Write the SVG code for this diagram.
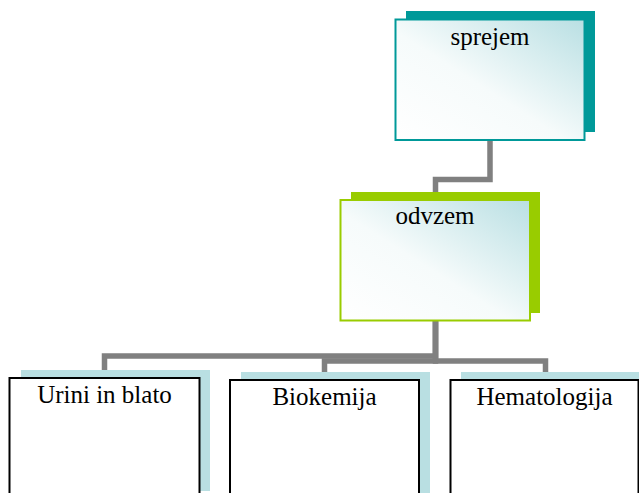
<svg xmlns="http://www.w3.org/2000/svg" width="639" height="493" viewBox="0 0 639 493">
<style>
.conn{fill:none;stroke:#808080;stroke-width:5.5;stroke-linejoin:miter}
.lbl{font-size:25px;fill:#000;text-anchor:middle}
.top{fill:url(#g)}
.child{fill:#fff;stroke:#000;stroke-width:2}
.cshadow{fill:#b9dfe2}
</style>
<defs>
<linearGradient id="g" x1="0" y1="1" x2="1" y2="0">
<stop offset="0" stop-color="#ffffff"/>
<stop offset="0.45" stop-color="#f6fbfb"/>
<stop offset="0.75" stop-color="#d5ecee"/>
<stop offset="1" stop-color="#b9dfe3"/>
</linearGradient>
</defs>
<g id="connectors">
<path class="conn" d="M490 140 V179.5 H435.5 V192"/>
<path class="conn" d="M435.5 321 V356 H104.5 V370"/>
<path class="conn" d="M435.5 321 V361 H324.5 V372"/>
<path class="conn" d="M435.5 321 V361 H545.5 V372"/>
</g>
<g font-family="'Liberation Serif', 'Times New Roman', serif">
<g id="sprejem">
<rect x="406" y="11" width="189" height="121" fill="#009999"/>
<rect class="top" x="395.5" y="19.5" width="189" height="120.5" stroke="#009999" stroke-width="2"/>
<text class="lbl" x="490" y="45">sprejem</text>
</g>
<g id="odvzem">
<rect x="351" y="192" width="189" height="121" fill="#99cc00"/>
<rect class="top" x="340.5" y="200" width="189.5" height="120.5" stroke="#99cc00" stroke-width="2"/>
<text class="lbl" x="435" y="224">odvzem</text>
</g>
<g id="urini">
<rect class="cshadow" x="21" y="370" width="189" height="121"/>
<rect class="child" x="9.5" y="378" width="190" height="120"/>
<text class="lbl" x="104.5" y="403">Urini in blato</text>
</g>
<g id="biokemija">
<rect class="cshadow" x="241" y="372" width="189" height="125"/>
<rect class="child" x="230" y="380" width="189" height="120"/>
<text class="lbl" x="324.5" y="405">Biokemija</text>
</g>
<g id="hematologija">
<rect class="cshadow" x="461" y="372" width="180" height="125"/>
<rect class="child" x="450.5" y="380" width="188" height="120"/>
<text class="lbl" x="544.5" y="405">Hematologija</text>
</g>
</g>
</svg>
